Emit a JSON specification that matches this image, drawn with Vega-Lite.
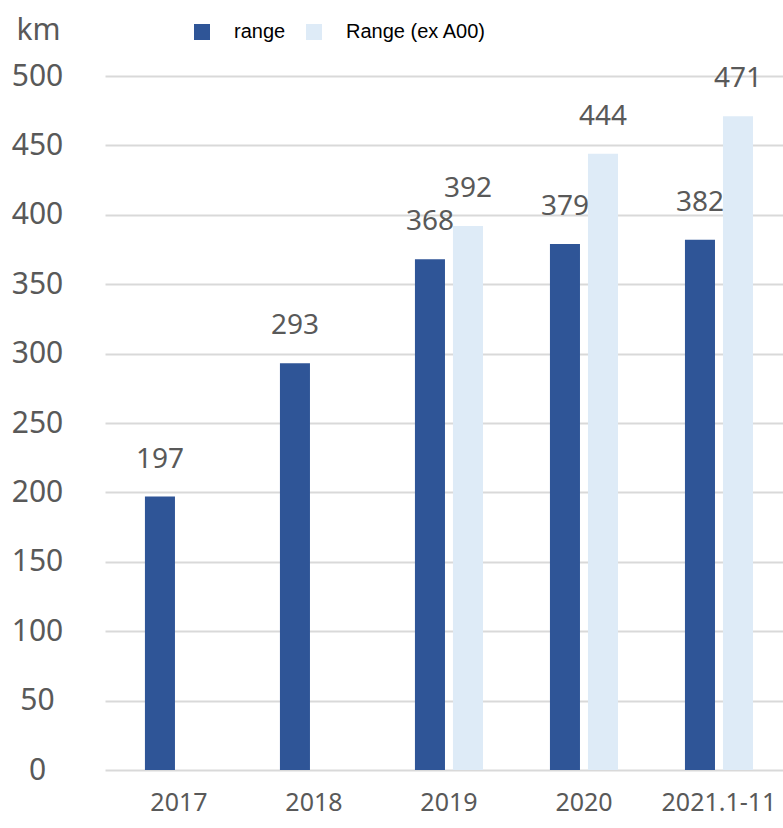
{
  "$schema": "https://vega.github.io/schema/vega-lite/v6.json",
  "autosize": {"type": "none"},
  "padding": {"left": 105, "top": 76, "right": 0, "bottom": 58},
  "width": 678,
  "height": 694,
  "background": "white",
  "config": {
    "view": {"stroke": null},
    "font": "Noto Sans"
  },
  "data": {
    "values": [
      {"year": "2017", "series": "range", "value": 197},
      {"year": "2018", "series": "range", "value": 293},
      {"year": "2019", "series": "range", "value": 368},
      {"year": "2019", "series": "Range (ex A00)", "value": 392},
      {"year": "2020", "series": "range", "value": 379},
      {"year": "2020", "series": "Range (ex A00)", "value": 444},
      {"year": "2021.1-11", "series": "range", "value": 382},
      {"year": "2021.1-11", "series": "Range (ex A00)", "value": 471}
    ]
  },
  "encoding": {
    "x": {
      "field": "year",
      "type": "nominal",
      "sort": ["2017", "2018", "2019", "2020", "2021.1-11"],
      "scale": {"paddingInner": 0.496, "paddingOuter": 0.259, "align": 0.571},
      "axis": {
        "title": null,
        "labelAngle": 0,
        "labelFontSize": 25,
        "labelColor": "#595959",
        "labelPadding": 20,
        "domain": false,
        "ticks": false,
        "grid": false
      }
    },
    "xOffset": {
      "field": "series",
      "type": "nominal",
      "sort": ["range", "Range (ex A00)"],
      "scale": {"domain": ["range", "Range (ex A00)"], "paddingInner": 0.21, "paddingOuter": 0}
    },
    "y": {
      "field": "value",
      "type": "quantitative",
      "scale": {"domain": [0, 500], "nice": false},
      "axis": {
        "values": [0, 50, 100, 150, 200, 250, 300, 350, 400, 450, 500],
        "title": "km",
        "titleAngle": 0,
        "titleX": -67,
        "titleY": -46,
        "titleAlign": "center",
        "titleBaseline": "middle",
        "titleFontSize": 30,
        "titleFontWeight": "normal",
        "titleColor": "#595959",
        "labelFontSize": 30,
        "labelColor": "#595959",
        "labelAlign": "center",
        "labelBaseline": "middle",
        "labelPadding": 68,
        "domain": false,
        "ticks": false,
        "tickSize": 0,
        "grid": true,
        "gridColor": "#d9d9d9",
        "gridWidth": 2
      }
    }
  },
  "layer": [
    {
      "mark": {"type": "bar"},
      "encoding": {
        "color": {
          "field": "series",
          "type": "nominal",
          "scale": {"domain": ["range", "Range (ex A00)"], "range": ["#2F5597", "#DEEBF7"]},
          "legend": {
            "title": null,
            "orient": "none",
            "direction": "horizontal",
            "legendX": 87,
            "legendY": -54,
            "symbolType": "square",
            "symbolSize": 256,
            "symbolStrokeWidth": 0,
            "labelFont": "Liberation Sans",
            "labelFontSize": 20,
            "labelColor": "#000000",
            "labelOffset": 22,
            "columnPadding": 18
          }
        }
      }
    },
    {
      "mark": {"type": "text", "baseline": "middle", "dy": -37, "fontSize": 28, "color": "#595959"},
      "encoding": {
        "text": {"field": "value", "type": "quantitative"}
      }
    }
  ]
}
